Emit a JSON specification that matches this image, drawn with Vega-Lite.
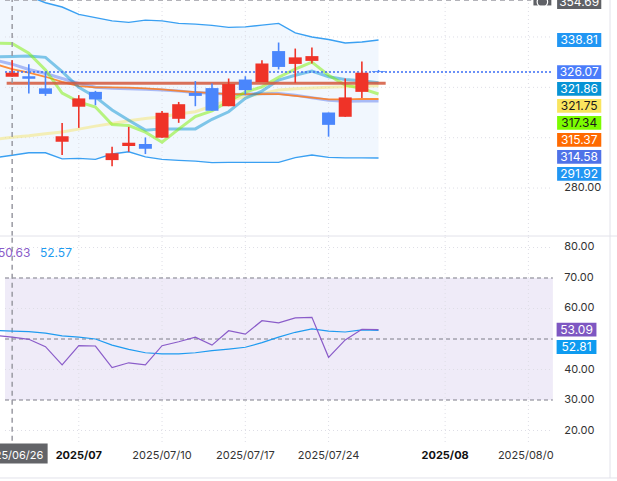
{
  "$schema": "https://vega.github.io/schema/vega-lite/v6.json",
  "width": 617,
  "height": 481,
  "autosize": {"type": "none"},
  "padding": 0,
  "background": "#ffffff",
  "config": {"view": {"stroke": null}, "font": "Inter"},
  "datasets": {
    "candles": [
      {"i": 0, "o": 324.2, "h": 330.8, "l": 324.2, "c": 325.75, "d": "up"},
      {"i": 1, "o": 324.4, "h": 329.2, "l": 317.6, "c": 323.4, "d": "down"},
      {"i": 2, "o": 319.6, "h": 325.8, "l": 316.6, "c": 317.4, "d": "down"},
      {"i": 3, "o": 298.4, "h": 305.8, "l": 293.1, "c": 300.6, "d": "up"},
      {"i": 4, "o": 312.3, "h": 316.9, "l": 303.9, "c": 315.6, "d": "up"},
      {"i": 5, "o": 318.2, "h": 318.6, "l": 312.9, "c": 315.2, "d": "down"},
      {"i": 6, "o": 291.1, "h": 296.4, "l": 288.7, "c": 293.8, "d": "up"},
      {"i": 7, "o": 296.7, "h": 304.3, "l": 294.4, "c": 298.0, "d": "up"},
      {"i": 8, "o": 297.5, "h": 300.1, "l": 293.5, "c": 295.6, "d": "down"},
      {"i": 9, "o": 300.0, "h": 310.6, "l": 300.0, "c": 309.9, "d": "up"},
      {"i": 10, "o": 307.5, "h": 314.2, "l": 305.9, "c": 313.3, "d": "up"},
      {"i": 11, "o": 317.8, "h": 322.5, "l": 312.5, "c": 316.6, "d": "down"},
      {"i": 12, "o": 319.7, "h": 321.5, "l": 310.7, "c": 310.7, "d": "down"},
      {"i": 13, "o": 312.5, "h": 323.5, "l": 312.5, "c": 321.3, "d": "up"},
      {"i": 14, "o": 323.1, "h": 324.4, "l": 317.2, "c": 318.9, "d": "down"},
      {"i": 15, "o": 322.1, "h": 330.8, "l": 322.1, "c": 329.5, "d": "up"},
      {"i": 16, "o": 334.4, "h": 337.8, "l": 327.1, "c": 328.1, "d": "down"},
      {"i": 17, "o": 329.3, "h": 335.4, "l": 321.8, "c": 331.9, "d": "up"},
      {"i": 18, "o": 330.5, "h": 335.8, "l": 329.5, "c": 332.4, "d": "up"},
      {"i": 19, "o": 310.0, "h": 310.0, "l": 300.4, "c": 305.1, "d": "down"},
      {"i": 20, "o": 308.3, "h": 323.5, "l": 308.3, "c": 316.0, "d": "up"},
      {"i": 21, "o": 318.2, "h": 330.3, "l": 315.8, "c": 325.8, "d": "up"},
      {"i": 22, "o": 326.4, "h": 326.9, "l": 326.07, "c": 326.07, "d": "down"}
    ],
    "lines": [
      {"i": -1, "up": 359.5, "lo": 292.1, "mid": 329.2, "m10": 332.1, "m5": 337.5, "m20": 330.8, "m60": 299.4},
      {"i": 0, "up": 357.8, "lo": 293.0, "mid": 327.2, "m10": 332.2, "m5": 337.4, "m20": 329.2, "m60": 300.2},
      {"i": 1, "up": 356.2, "lo": 294.0, "mid": 325.8, "m10": 332.4, "m5": 333.6, "m20": 327.1, "m60": 300.8},
      {"i": 2, "up": 353.6, "lo": 294.0, "mid": 324.2, "m10": 331.9, "m5": 326.9, "m20": 325.5, "m60": 301.6},
      {"i": 3, "up": 351.9, "lo": 291.6, "mid": 322.2, "m10": 326.2, "m5": 317.7, "m20": 323.5, "m60": 302.3},
      {"i": 4, "up": 349.0, "lo": 291.8, "mid": 320.5, "m10": 320.0, "m5": 314.2, "m20": 321.5, "m60": 303.4},
      {"i": 5, "up": 347.7, "lo": 291.4, "mid": 320.0, "m10": 316.2, "m5": 312.2, "m20": 320.0, "m60": 304.6},
      {"i": 6, "up": 346.4, "lo": 293.5, "mid": 320.0, "m10": 311.0, "m5": 305.2, "m20": 319.6, "m60": 305.6},
      {"i": 7, "up": 345.8, "lo": 294.4, "mid": 319.9, "m10": 306.9, "m5": 304.8, "m20": 319.4, "m60": 306.7},
      {"i": 8, "up": 346.7, "lo": 292.4, "mid": 319.6, "m10": 303.0, "m5": 302.2, "m20": 319.2, "m60": 307.6},
      {"i": 9, "up": 346.4, "lo": 291.4, "mid": 319.2, "m10": 303.5, "m5": 298.2, "m20": 318.9, "m60": 308.3},
      {"i": 10, "up": 345.4, "lo": 291.0, "mid": 318.6, "m10": 303.5, "m5": 303.4, "m20": 318.5, "m60": 309.4},
      {"i": 11, "up": 345.1, "lo": 290.7, "mid": 318.1, "m10": 303.5, "m5": 308.4, "m20": 317.9, "m60": 310.3},
      {"i": 12, "up": 344.6, "lo": 290.1, "mid": 317.7, "m10": 307.3, "m5": 310.6, "m20": 317.7, "m60": 312.6},
      {"i": 13, "up": 343.8, "lo": 290.2, "mid": 317.3, "m10": 310.3, "m5": 314.5, "m20": 317.2, "m60": 314.9},
      {"i": 14, "up": 344.0, "lo": 290.2, "mid": 317.3, "m10": 315.6, "m5": 318.1, "m20": 317.3, "m60": 316.2},
      {"i": 15, "up": 344.7, "lo": 290.2, "mid": 317.3, "m10": 318.5, "m5": 320.2, "m20": 317.5, "m60": 317.5},
      {"i": 16, "up": 345.4, "lo": 290.2, "mid": 317.3, "m10": 322.9, "m5": 324.0, "m20": 317.6, "m60": 318.9},
      {"i": 17, "up": 341.6, "lo": 292.1, "mid": 316.6, "m10": 324.8, "m5": 327.2, "m20": 316.9, "m60": 319.4},
      {"i": 18, "up": 340.0, "lo": 293.1, "mid": 315.9, "m10": 326.5, "m5": 330.0, "m20": 315.9, "m60": 319.7},
      {"i": 19, "up": 339.0, "lo": 292.2, "mid": 315.2, "m10": 324.2, "m5": 324.8, "m20": 314.9, "m60": 320.0},
      {"i": 20, "up": 337.6, "lo": 292.0, "mid": 315.2, "m10": 323.1, "m5": 320.9, "m20": 314.5, "m60": 320.2},
      {"i": 21, "up": 338.0, "lo": 292.0, "mid": 315.4, "m10": 322.6, "m5": 319.5, "m20": 314.6, "m60": 320.4},
      {"i": 22, "up": 338.81, "lo": 291.92, "mid": 315.37, "m10": 321.86, "m5": 317.34, "m20": 314.58, "m60": 320.6}
    ],
    "rsi": [
      {"i": -1, "r1": 51.2, "r2": 52.8},
      {"i": 0, "r1": 50.63, "r2": 52.57},
      {"i": 1, "r1": 49.9, "r2": 52.4},
      {"i": 2, "r1": 47.5, "r2": 51.9},
      {"i": 3, "r1": 41.5, "r2": 51.0},
      {"i": 4, "r1": 47.8, "r2": 50.6},
      {"i": 5, "r1": 47.7, "r2": 50.0},
      {"i": 6, "r1": 40.6, "r2": 48.0},
      {"i": 7, "r1": 42.2, "r2": 46.6},
      {"i": 8, "r1": 41.5, "r2": 45.5},
      {"i": 9, "r1": 47.8, "r2": 45.1},
      {"i": 10, "r1": 49.1, "r2": 45.1},
      {"i": 11, "r1": 50.6, "r2": 45.5},
      {"i": 12, "r1": 48.0, "r2": 46.2},
      {"i": 13, "r1": 52.7, "r2": 46.7},
      {"i": 14, "r1": 51.6, "r2": 47.3},
      {"i": 15, "r1": 56.0, "r2": 48.8},
      {"i": 16, "r1": 55.3, "r2": 50.6},
      {"i": 17, "r1": 56.9, "r2": 52.2},
      {"i": 18, "r1": 57.1, "r2": 53.3},
      {"i": 19, "r1": 44.0, "r2": 52.6},
      {"i": 20, "r1": 49.7, "r2": 52.3},
      {"i": 21, "r1": 53.2, "r2": 53.0},
      {"i": 22, "r1": 53.09, "r2": 52.81}
    ],
    "priceTags": [
      {"key": "cross", "label": "354.69", "pos": 353.9},
      {"key": "upper", "label": "338.81", "pos": 338.81},
      {"key": "last", "label": "326.07", "pos": 326.07},
      {"key": "m10", "label": "321.86", "pos": 319.38},
      {"key": "m60", "label": "321.75", "pos": 312.63},
      {"key": "m5", "label": "317.34", "pos": 305.87},
      {"key": "mid", "label": "315.37", "pos": 299.12},
      {"key": "m20", "label": "314.58", "pos": 292.37},
      {"key": "lower", "label": "291.92", "pos": 285.62}
    ],
    "rsiTags": [
      {"key": "r1", "label": "53.09", "pos": 53.09},
      {"key": "r2", "label": "52.81", "pos": 47.38}
    ],
    "priceGrid": [{"v": 280}, {"v": 300}, {"v": 320}, {"v": 340}],
    "priceTicks": [{"v": 280}],
    "rsiTicks": [{"v": 20}, {"v": 30}, {"v": 40}, {"v": 60}, {"v": 70}, {"v": 80}],
    "rsiGrid": [{"v": 20}, {"v": 40}, {"v": 60}, {"v": 80}],
    "rsiLevels": [{"v": 30}, {"v": 50}, {"v": 70}],
    "timeGrid": [{"i": 4}, {"i": 9}, {"i": 14}, {"i": 19}, {"i": 26}, {"i": 31}],
    "dayTicks": [
      {"i": 9, "t": "2025/07/10"},
      {"i": 14, "t": "2025/07/17"},
      {"i": 19, "t": "2025/07/24"},
      {"i": 30.84, "t": "2025/08/0"}
    ],
    "monthTicks": [
      {"i": 4, "t": "2025/07"},
      {"i": 26, "t": "2025/08"}
    ]
  },
  "layer": [
    {
      "layer": [
        {
          "data": {"name": "lines"},
          "mark": {"type": "area", "color": "#f1f7fe"},
          "encoding": {
            "x": {"field": "i", "type": "quantitative", "axis": null, "scale": {"domain": [-0.43, 36.02], "nice": false, "zero": false}},
            "y": {"field": "up", "type": "quantitative", "axis": null, "scale": {"domain": [260.95, 354.69], "range": [236, 0], "nice": false, "zero": false}},
            "y2": {"field": "lo"}
          }
        },
        {
          "data": {"name": "priceGrid"},
          "mark": {"type": "rule", "color": "#dedee6", "strokeDash": [1, 3], "strokeWidth": 1},
          "encoding": {
            "y": {"field": "v", "type": "quantitative", "axis": null},
            "x": {"datum": -0.43, "axis": null},
            "x2": {"datum": 32.47}
          }
        },
        {
          "data": {"name": "priceTicks"},
          "mark": {"type": "text", "color": "#333333", "fontSize": 11, "align": "left", "baseline": "middle"},
          "encoding": {
            "y": {"field": "v", "type": "quantitative", "axis": null},
            "x": {"datum": 33.15, "axis": null},
            "text": {"field": "v", "type": "quantitative", "format": ".2f"}
          }
        },
        {
          "data": {"name": "timeGrid"},
          "mark": {"type": "rule", "color": "#dedee6", "strokeDash": [1, 3], "strokeWidth": 1},
          "encoding": {
            "x": {"field": "i", "type": "quantitative", "axis": null},
            "y": {"datum": 260.95, "axis": null},
            "y2": {"datum": 354.69}
          }
        },
        {
          "data": {"name": "lines"},
          "mark": {"type": "line", "color": "#3aa0f2", "strokeWidth": 1.4},
          "encoding": {"x": {"field": "i", "type": "quantitative", "axis": null}, "y": {"field": "up", "type": "quantitative", "axis": null}}
        },
        {
          "data": {"name": "lines"},
          "mark": {"type": "line", "color": "#3aa0f2", "strokeWidth": 1.4},
          "encoding": {"x": {"field": "i", "type": "quantitative", "axis": null}, "y": {"field": "lo", "type": "quantitative", "axis": null}}
        },
        {
          "data": {"name": "lines"},
          "mark": {"type": "line", "color": "#f7e04a", "strokeWidth": 3, "opacity": 0.4},
          "encoding": {"x": {"field": "i", "type": "quantitative", "axis": null}, "y": {"field": "m60", "type": "quantitative", "axis": null}}
        },
        {
          "data": {"name": "lines"},
          "mark": {"type": "line", "color": "#4f6fee", "strokeWidth": 3, "opacity": 0.45},
          "encoding": {"x": {"field": "i", "type": "quantitative", "axis": null}, "y": {"field": "m20", "type": "quantitative", "axis": null}}
        },
        {
          "data": {"name": "lines"},
          "mark": {"type": "line", "color": "#ff7a1a", "strokeWidth": 1.8, "opacity": 0.85},
          "encoding": {"x": {"field": "i", "type": "quantitative", "axis": null}, "y": {"field": "mid", "type": "quantitative", "axis": null}}
        },
        {
          "data": {"name": "lines"},
          "mark": {"type": "line", "color": "#0a93d4", "strokeWidth": 3, "opacity": 0.5},
          "encoding": {"x": {"field": "i", "type": "quantitative", "axis": null}, "y": {"field": "m10", "type": "quantitative", "axis": null}}
        },
        {
          "data": {"name": "lines"},
          "mark": {"type": "line", "color": "#7cf000", "strokeWidth": 3, "opacity": 0.5},
          "encoding": {"x": {"field": "i", "type": "quantitative", "axis": null}, "y": {"field": "m5", "type": "quantitative", "axis": null}}
        },
        {
          "data": {"values": [{"a": -0.33, "b": 22.43, "v": 321.6}]},
          "mark": {"type": "rule", "color": "#d4583c", "strokeWidth": 3, "opacity": 0.85},
          "encoding": {
            "x": {"field": "a", "type": "quantitative", "axis": null},
            "x2": {"field": "b"},
            "y": {"field": "v", "type": "quantitative", "axis": null}
          }
        },
        {
          "data": {"values": [{"v": 354.69}]},
          "mark": {"type": "rule", "color": "#9a9aa2", "strokeDash": [5, 4], "strokeWidth": 1.5},
          "encoding": {
            "y": {"field": "v", "type": "quantitative", "axis": null},
            "x": {"datum": -0.43, "axis": null},
            "x2": {"datum": 31.17}
          }
        },
        {
          "data": {"values": [{"i": 0}]},
          "mark": {"type": "rule", "color": "#9a9aa2", "strokeDash": [5, 4], "strokeWidth": 1.5},
          "encoding": {
            "x": {"field": "i", "type": "quantitative", "axis": null},
            "y": {"datum": 260.95, "axis": null},
            "y2": {"datum": 356}
          }
        },
        {
          "data": {"values": [{"v": 326.07}]},
          "mark": {"type": "rule", "color": "#3b6ef5", "strokeDash": [2, 2], "strokeWidth": 1.5},
          "encoding": {
            "y": {"field": "v", "type": "quantitative", "axis": null},
            "x": {"datum": -0.43, "axis": null},
            "x2": {"datum": 32.47}
          }
        },
        {
          "data": {"name": "candles"},
          "mark": {"type": "rule", "strokeWidth": 1.6},
          "encoding": {
            "x": {"field": "i", "type": "quantitative", "axis": null},
            "y": {"field": "l", "type": "quantitative", "axis": null},
            "y2": {"field": "h"},
            "color": {"field": "d", "type": "nominal", "legend": null, "scale": {"domain": ["up", "down"], "range": ["#ef3328", "#4a86fc"]}}
          }
        },
        {
          "data": {"name": "candles"},
          "mark": {"type": "bar", "width": 13},
          "encoding": {
            "x": {"field": "i", "type": "quantitative", "axis": null},
            "y": {"field": "o", "type": "quantitative", "axis": null},
            "y2": {"field": "c"},
            "color": {"field": "d", "type": "nominal", "legend": null}
          }
        },
        {
          "data": {"values": [{"v": 353.9}]},
          "mark": {"type": "point", "filled": true, "opacity": 1, "shape": "M-1,-0.3865H1V0.3865H-1Z", "size": 321, "strokeWidth": 0, "color": "#5f6166"},
          "encoding": {
            "x": {"datum": 31.84, "axis": null},
            "y": {"field": "v", "type": "quantitative", "axis": null}
          }
        },
        {
          "data": {"values": [{"v": 353.9}]},
          "mark": {"type": "point", "filled": false, "opacity": 1, "shape": "circle", "size": 110, "color": "#ffffff", "strokeWidth": 1.2},
          "encoding": {
            "x": {"datum": 31.84, "axis": null},
            "y": {"field": "v", "type": "quantitative", "axis": null}
          }
        },
        {
          "data": {"name": "priceTags"},
          "mark": {"type": "point", "filled": true, "opacity": 1, "shape": "M-1,-0.3137H1V0.3137H-1Z", "size": 1951, "strokeWidth": 0},
          "encoding": {
            "x": {"datum": 34.05, "axis": null},
            "y": {"field": "pos", "type": "quantitative", "axis": null},
            "fill": {
              "field": "key", "type": "nominal", "legend": null,
              "scale": {
                "domain": ["cross", "upper", "last", "m10", "m60", "m5", "mid", "m20", "lower"],
                "range": ["#5f6166", "#2196f3", "#4a7cfa", "#0793d5", "#f9e55e", "#7cfc00", "#ff6a00", "#4f72e8", "#2196f3"]
              }
            }
          }
        },
        {
          "data": {"name": "priceTags"},
          "transform": [{"filter": {"not": {"field": "key", "oneOf": ["m60", "m5"]}}}],
          "mark": {"type": "text", "color": "#ffffff", "fontSize": 12, "align": "center", "baseline": "middle"},
          "encoding": {
            "x": {"datum": 34.05, "axis": null},
            "y": {"field": "pos", "type": "quantitative", "axis": null},
            "text": {"field": "label"}
          }
        },
        {
          "data": {"name": "priceTags"},
          "transform": [{"filter": {"field": "key", "oneOf": ["m60", "m5"]}}],
          "mark": {"type": "text", "color": "#1a1a1a", "fontSize": 12, "align": "center", "baseline": "middle"},
          "encoding": {
            "x": {"datum": 34.05, "axis": null},
            "y": {"field": "pos", "type": "quantitative", "axis": null},
            "text": {"field": "label"}
          }
        }
      ]
    },
    {
      "layer": [
        {
          "data": {"values": [{"lo": 30, "hi": 70}]},
          "mark": {"type": "rect", "color": "#efebf8"},
          "encoding": {
            "x": {"datum": -0.43, "axis": null, "scale": {"domain": [-0.43, 36.02], "nice": false, "zero": false}},
            "x2": {"datum": 32.47},
            "y": {"field": "lo", "type": "quantitative", "axis": null, "scale": {"domain": [16.23, 83.77], "range": [442, 236], "nice": false, "zero": false}},
            "y2": {"field": "hi"}
          }
        },
        {
          "data": {"name": "rsiGrid"},
          "mark": {"type": "rule", "color": "#dedee6", "strokeDash": [1, 3], "strokeWidth": 1},
          "encoding": {
            "y": {"field": "v", "type": "quantitative", "axis": null},
            "x": {"datum": -0.43, "axis": null},
            "x2": {"datum": 32.47}
          }
        },
        {
          "data": {"name": "rsiTicks"},
          "mark": {"type": "text", "color": "#333333", "fontSize": 11, "align": "left", "baseline": "middle"},
          "encoding": {
            "y": {"field": "v", "type": "quantitative", "axis": null},
            "x": {"datum": 33.15, "axis": null},
            "text": {"field": "v", "type": "quantitative", "format": ".2f"}
          }
        },
        {
          "data": {"name": "timeGrid"},
          "mark": {"type": "rule", "color": "#dedee6", "strokeDash": [1, 3], "strokeWidth": 1},
          "encoding": {
            "x": {"field": "i", "type": "quantitative", "axis": null},
            "y": {"datum": 16.23, "axis": null},
            "y2": {"datum": 83.77}
          }
        },
        {
          "data": {"name": "rsiLevels"},
          "mark": {"type": "rule", "color": "#7c7c88", "strokeDash": [4, 3], "strokeWidth": 1},
          "encoding": {
            "y": {"field": "v", "type": "quantitative", "axis": null},
            "x": {"datum": -0.43, "axis": null},
            "x2": {"datum": 32.47}
          }
        },
        {
          "data": {"values": [{"i": 0}]},
          "mark": {"type": "rule", "color": "#9a9aa2", "strokeDash": [5, 4], "strokeWidth": 1.5},
          "encoding": {
            "x": {"field": "i", "type": "quantitative", "axis": null},
            "y": {"datum": 16.6, "axis": null},
            "y2": {"datum": 83.77}
          }
        },
        {
          "data": {"values": [{"a": -1, "b": 37, "v": 83.77}, {"a": -1, "b": 37, "v": 4.43}]},
          "mark": {"type": "rule", "color": "#e2e2ea", "strokeWidth": 1},
          "encoding": {
            "x": {"field": "a", "type": "quantitative", "axis": null},
            "x2": {"field": "b"},
            "y": {"field": "v", "type": "quantitative", "axis": null}
          }
        },
        {
          "data": {"values": [{"i": 35.9, "a": 4.43, "b": 170}]},
          "mark": {"type": "rule", "color": "#e2e2ea", "strokeWidth": 1},
          "encoding": {
            "x": {"field": "i", "type": "quantitative", "axis": null},
            "y": {"field": "a", "type": "quantitative", "axis": null},
            "y2": {"field": "b"}
          }
        },
        {
          "data": {"name": "rsi"},
          "mark": {"type": "line", "color": "#1f9bf0", "strokeWidth": 1.2},
          "encoding": {"x": {"field": "i", "type": "quantitative", "axis": null}, "y": {"field": "r2", "type": "quantitative", "axis": null}}
        },
        {
          "data": {"name": "rsi"},
          "mark": {"type": "line", "color": "#8a5cc9", "strokeWidth": 1.2},
          "encoding": {"x": {"field": "i", "type": "quantitative", "axis": null}, "y": {"field": "r1", "type": "quantitative", "axis": null}}
        },
        {
          "data": {"name": "dayTicks"},
          "mark": {"type": "text", "color": "#333333", "fontSize": 11, "align": "center", "baseline": "middle"},
          "encoding": {
            "x": {"field": "i", "type": "quantitative", "axis": null},
            "y": {"datum": 11.48, "axis": null},
            "text": {"field": "t"}
          }
        },
        {
          "data": {"name": "monthTicks"},
          "mark": {"type": "text", "color": "#111111", "fontSize": 11, "fontWeight": "bold", "align": "center", "baseline": "middle"},
          "encoding": {
            "x": {"field": "i", "type": "quantitative", "axis": null},
            "y": {"datum": 11.48, "axis": null},
            "text": {"field": "t"}
          }
        },
        {
          "data": {"values": [{"t": "50.63", "v": 78.1}]},
          "mark": {"type": "text", "color": "#8a5cc9", "fontSize": 12, "align": "right", "baseline": "middle"},
          "encoding": {
            "x": {"datum": 1.1, "axis": null},
            "y": {"field": "v", "type": "quantitative", "axis": null},
            "text": {"field": "t"}
          }
        },
        {
          "data": {"values": [{"t": "52.57", "v": 78.1}]},
          "mark": {"type": "text", "color": "#1f9bf0", "fontSize": 12, "align": "left", "baseline": "middle"},
          "encoding": {
            "x": {"datum": 1.67, "axis": null},
            "y": {"field": "v", "type": "quantitative", "axis": null},
            "text": {"field": "t"}
          }
        },
        {
          "data": {"name": "rsiTags"},
          "mark": {"type": "point", "filled": true, "opacity": 1, "shape": "M-1,-0.3478H1V0.3478H-1Z", "size": 1587, "strokeWidth": 0},
          "encoding": {
            "x": {"datum": 33.89, "axis": null},
            "y": {"field": "pos", "type": "quantitative", "axis": null},
            "fill": {"field": "key", "type": "nominal", "legend": null, "scale": {"domain": ["r1", "r2"], "range": ["#7e57c2", "#0e9bf0"]}}
          }
        },
        {
          "data": {"name": "rsiTags"},
          "mark": {"type": "text", "color": "#ffffff", "fontSize": 12, "align": "center", "baseline": "middle"},
          "encoding": {
            "x": {"datum": 33.89, "axis": null},
            "y": {"field": "pos", "type": "quantitative", "axis": null},
            "text": {"field": "label"}
          }
        },
        {
          "data": {"values": [{"t": "2025/06/26", "v": 12.46, "w": 11.7}]},
          "mark": {"type": "point", "filled": true, "opacity": 1, "shape": "M-1,-0.2875H1V0.2875H-1Z", "size": 4800, "strokeWidth": 0, "color": "#636468"},
          "encoding": {
            "x": {"datum": 0.05, "axis": null},
            "y": {"field": "v", "type": "quantitative", "axis": null}
          }
        },
        {
          "data": {"values": [{"t": "2025/06/26", "v": 12.46, "w": 11.7}]},
          "mark": {"type": "text", "color": "#ffffff", "fontSize": 11, "align": "center", "baseline": "middle"},
          "encoding": {
            "x": {"datum": 0.0, "axis": null},
            "y": {"field": "w", "type": "quantitative", "axis": null},
            "text": {"field": "t"}
          }
        }
      ]
    }
  ],
  "resolve": {"scale": {"y": "independent", "fill": "independent"}}
}
